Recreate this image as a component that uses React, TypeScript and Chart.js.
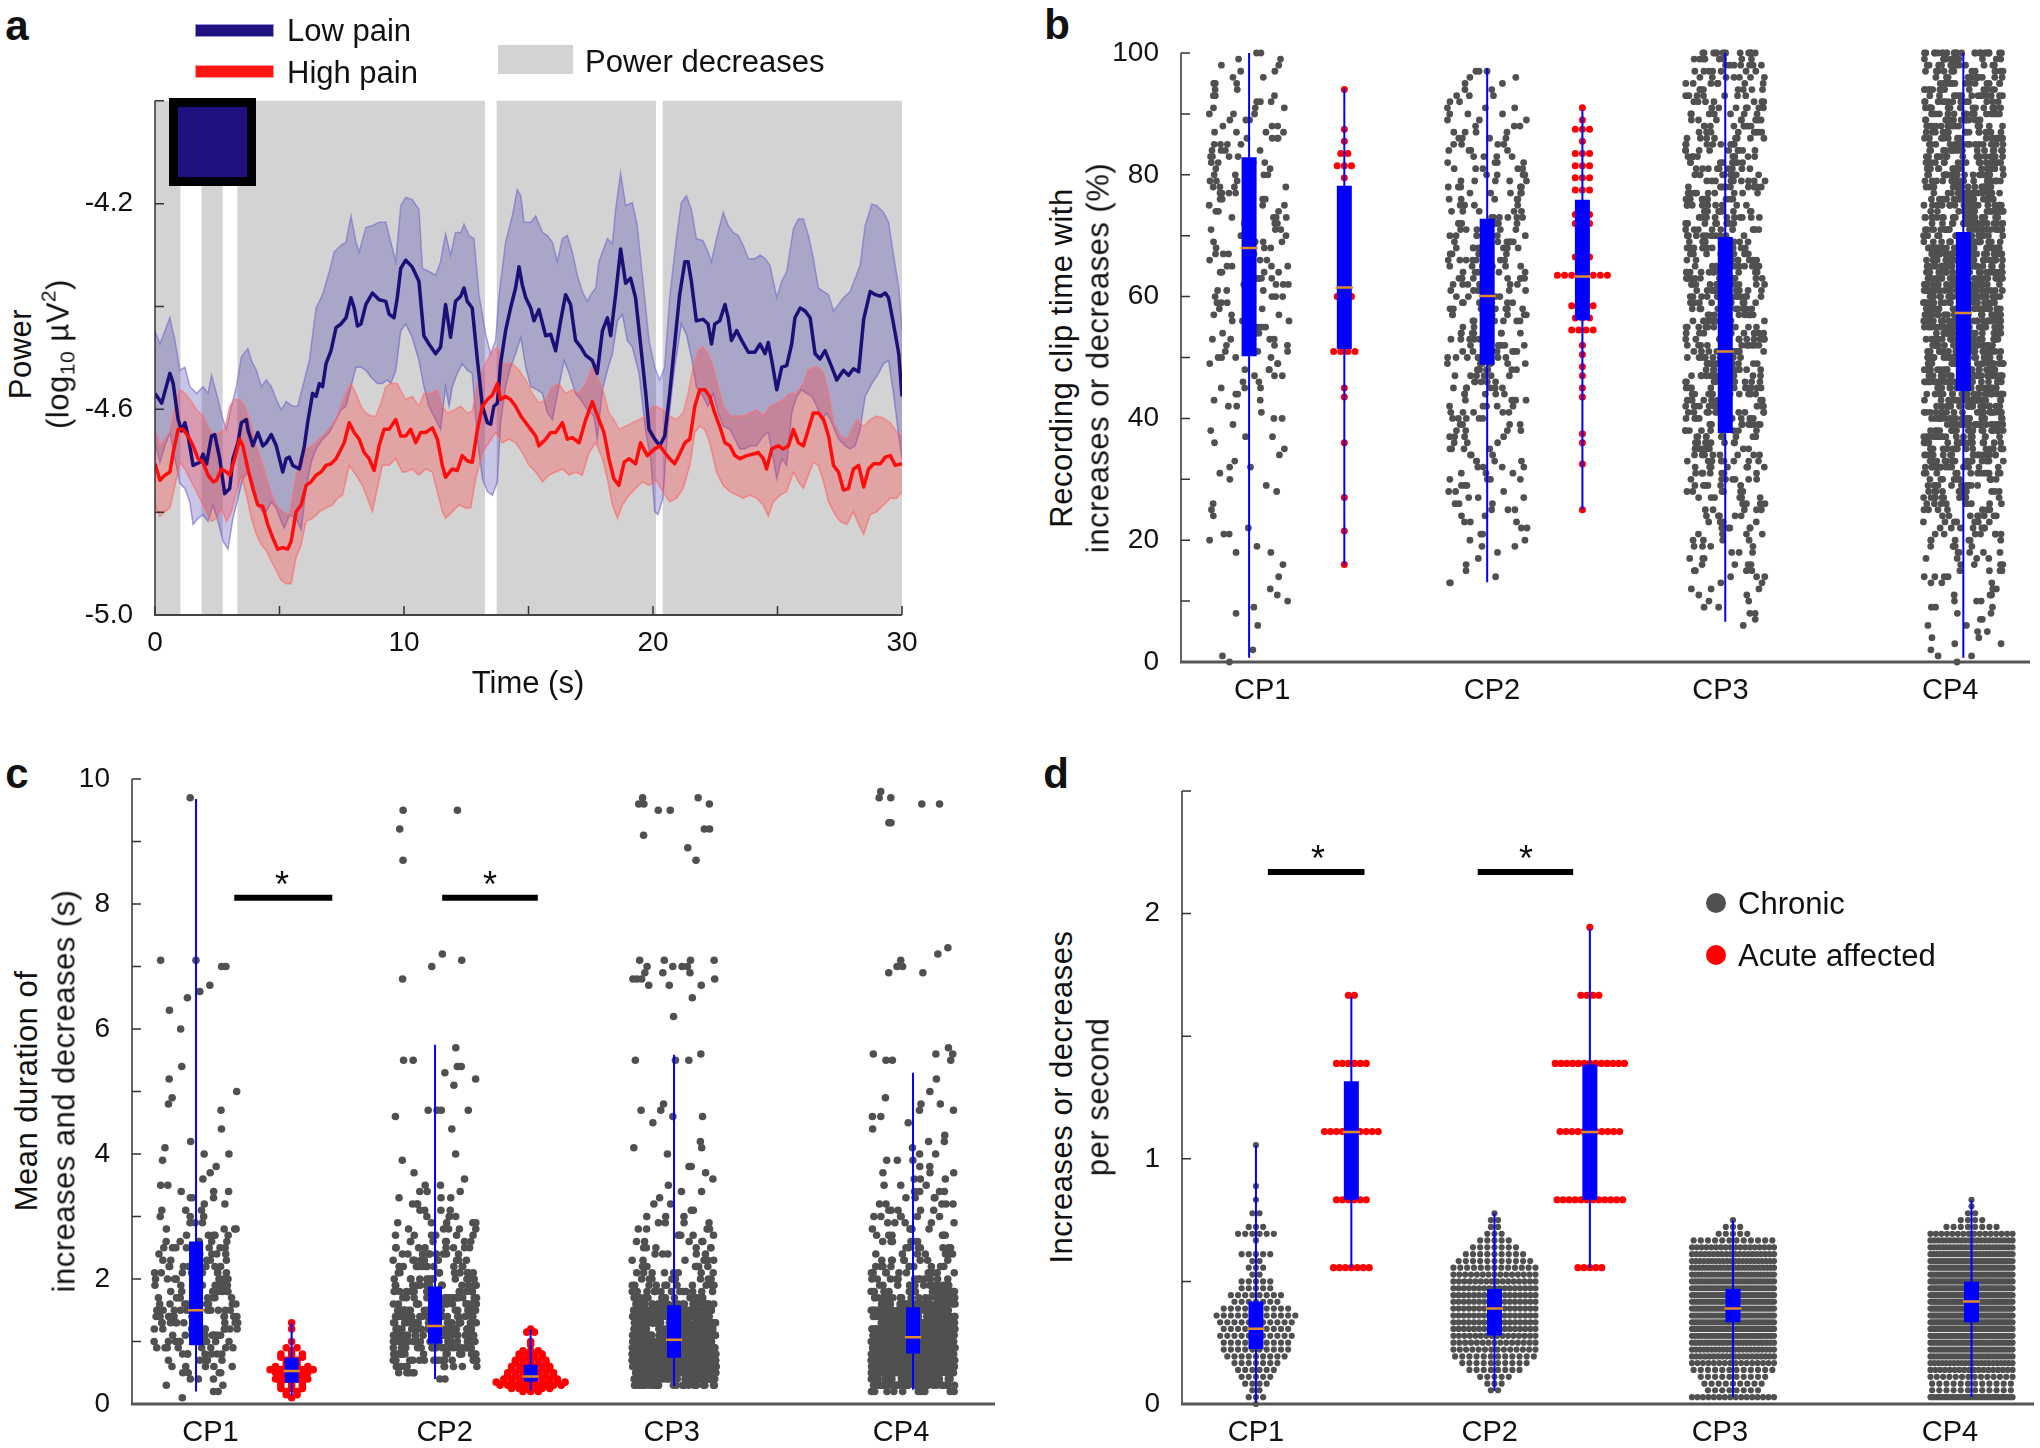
import React, { useEffect, useRef } from "react";
import { Chart, registerables } from "chart.js";

Chart.register(...registerables);

// ======================= DATA =======================
// ---- Panel a: power time courses (time s, log10 µV²) ----
const A_POWER_DECREASE_INTERVALS = [[0, 1.02], [1.87, 2.72], [3.31, 13.25], [13.72, 20.12], [20.39, 30]];
const A_X_TICKS = [0, 5, 10, 15, 20, 25, 30];

const A_LOW_MEAN = [[0,-4.569],[0.27,-4.588],[0.6,-4.53],[0.73,-4.55],[0.93,-4.62],[1.07,-4.642],[1.2,-4.626],[1.33,-4.652],[1.53,-4.709],[1.8,-4.703],[1.93,-4.687],[2.07,-4.706],[2.27,-4.652],[2.4,-4.649],[2.6,-4.696],[2.8,-4.764],[3,-4.754],[3.13,-4.696],[3.33,-4.665],[3.47,-4.626],[3.67,-4.62],[3.73,-4.639],[3.93,-4.671],[4.13,-4.645],[4.33,-4.671],[4.47,-4.665],[4.67,-4.649],[4.87,-4.671],[5.13,-4.722],[5.27,-4.696],[5.4,-4.693],[5.53,-4.709],[5.8,-4.716],[6,-4.671],[6.13,-4.626],[6.33,-4.569],[6.47,-4.575],[6.6,-4.55],[6.73,-4.556],[6.87,-4.511],[7.07,-4.486],[7.27,-4.441],[7.47,-4.434],[7.67,-4.422],[7.87,-4.383],[8,-4.403],[8.13,-4.438],[8.27,-4.434],[8.47,-4.396],[8.73,-4.374],[9,-4.387],[9.27,-4.39],[9.4,-4.415],[9.6,-4.422],[9.73,-4.383],[9.87,-4.326],[10.07,-4.31],[10.33,-4.323],[10.6,-4.351],[10.8,-4.457],[11,-4.473],[11.27,-4.492],[11.47,-4.479],[11.67,-4.396],[11.87,-4.46],[12.07,-4.39],[12.28,-4.38],[12.41,-4.364],[12.54,-4.39],[12.74,-4.403],[12.95,-4.505],[13.15,-4.594],[13.35,-4.626],[13.48,-4.629],[13.61,-4.594],[13.75,-4.588],[13.88,-4.511],[14.08,-4.447],[14.28,-4.403],[14.48,-4.364],[14.62,-4.323],[14.75,-4.358],[14.89,-4.383],[15.09,-4.403],[15.22,-4.428],[15.42,-4.406],[15.69,-4.457],[15.89,-4.454],[16.09,-4.486],[16.29,-4.428],[16.49,-4.377],[16.69,-4.396],[16.89,-4.466],[17.1,-4.479],[17.3,-4.495],[17.56,-4.505],[17.76,-4.53],[17.97,-4.447],[18.17,-4.422],[18.3,-4.457],[18.5,-4.377],[18.7,-4.288],[18.9,-4.355],[19.1,-4.345],[19.3,-4.383],[19.5,-4.473],[19.71,-4.569],[19.84,-4.639],[20.07,-4.658],[20.27,-4.671],[20.47,-4.652],[20.67,-4.569],[20.87,-4.473],[21.07,-4.377],[21.28,-4.313],[21.41,-4.313],[21.54,-4.351],[21.74,-4.428],[22.01,-4.425],[22.21,-4.434],[22.35,-4.473],[22.48,-4.434],[22.68,-4.428],[22.89,-4.396],[23.02,-4.422],[23.15,-4.466],[23.36,-4.447],[23.56,-4.466],[23.83,-4.489],[24.09,-4.489],[24.3,-4.473],[24.5,-4.492],[24.63,-4.47],[24.77,-4.505],[24.97,-4.562],[25.17,-4.518],[25.37,-4.515],[25.57,-4.473],[25.7,-4.422],[25.91,-4.403],[26.11,-4.409],[26.31,-4.422],[26.51,-4.492],[26.71,-4.502],[26.91,-4.486],[27.18,-4.518],[27.38,-4.543],[27.65,-4.524],[27.85,-4.534],[28.05,-4.521],[28.26,-4.527],[28.46,-4.425],[28.72,-4.371],[28.93,-4.377],[29.13,-4.38],[29.33,-4.374],[29.46,-4.383],[29.66,-4.434],[29.87,-4.492],[30,-4.575]];

const A_LOW_UPPER = [[0,-4.447],[0.2,-4.473],[0.4,-4.447],[0.6,-4.422],[0.8,-4.466],[1,-4.524],[1.2,-4.518],[1.4,-4.556],[1.67,-4.569],[1.93,-4.556],[2.13,-4.569],[2.27,-4.534],[2.47,-4.569],[2.73,-4.62],[2.87,-4.639],[3.07,-4.594],[3.27,-4.556],[3.47,-4.498],[3.73,-4.482],[3.87,-4.505],[4.07,-4.524],[4.27,-4.556],[4.47,-4.543],[4.67,-4.556],[4.87,-4.581],[5.07,-4.601],[5.27,-4.585],[5.53,-4.594],[5.73,-4.594],[5.93,-4.556],[6.2,-4.505],[6.47,-4.403],[6.73,-4.377],[7,-4.332],[7.2,-4.294],[7.47,-4.281],[7.67,-4.275],[7.87,-4.224],[8.07,-4.275],[8.2,-4.294],[8.47,-4.246],[8.73,-4.243],[9,-4.236],[9.27,-4.236],[9.47,-4.275],[9.67,-4.313],[9.87,-4.204],[10.07,-4.188],[10.33,-4.192],[10.6,-4.211],[10.74,-4.326],[11,-4.332],[11.27,-4.339],[11.47,-4.313],[11.67,-4.259],[11.87,-4.3],[12.07,-4.256],[12.28,-4.256],[12.41,-4.24],[12.61,-4.262],[12.81,-4.268],[13.01,-4.377],[13.28,-4.454],[13.48,-4.492],[13.68,-4.466],[13.82,-4.377],[14.08,-4.275],[14.35,-4.224],[14.55,-4.173],[14.69,-4.185],[14.82,-4.236],[15.09,-4.236],[15.29,-4.224],[15.56,-4.256],[15.76,-4.262],[15.96,-4.275],[16.16,-4.313],[16.36,-4.268],[16.56,-4.262],[16.76,-4.294],[16.96,-4.339],[17.16,-4.371],[17.36,-4.39],[17.5,-4.377],[17.7,-4.364],[17.83,-4.313],[17.97,-4.294],[18.17,-4.268],[18.37,-4.278],[18.5,-4.211],[18.7,-4.141],[18.9,-4.204],[19.17,-4.198],[19.37,-4.243],[19.57,-4.339],[19.84,-4.466],[20.07,-4.518],[20.27,-4.543],[20.47,-4.518],[20.67,-4.383],[20.94,-4.268],[21.14,-4.198],[21.34,-4.185],[21.54,-4.211],[21.74,-4.268],[22.01,-4.272],[22.21,-4.294],[22.35,-4.313],[22.55,-4.268],[22.82,-4.217],[23.02,-4.243],[23.22,-4.256],[23.42,-4.262],[23.62,-4.281],[23.83,-4.307],[24.09,-4.307],[24.3,-4.3],[24.5,-4.307],[24.7,-4.32],[24.97,-4.383],[25.17,-4.351],[25.37,-4.332],[25.64,-4.249],[25.84,-4.23],[26.04,-4.23],[26.24,-4.262],[26.44,-4.307],[26.64,-4.364],[26.85,-4.371],[27.05,-4.377],[27.25,-4.409],[27.45,-4.396],[27.65,-4.383],[27.92,-4.371],[28.12,-4.345],[28.32,-4.32],[28.52,-4.243],[28.79,-4.201],[28.99,-4.204],[29.26,-4.217],[29.46,-4.236],[29.66,-4.3],[29.87,-4.364],[30,-4.447]];

const A_LOW_LOWER = [[0,-4.665],[0.2,-4.703],[0.4,-4.671],[0.6,-4.645],[0.8,-4.696],[1,-4.744],[1.2,-4.754],[1.4,-4.78],[1.53,-4.824],[1.73,-4.812],[1.93,-4.805],[2.13,-4.818],[2.33,-4.786],[2.53,-4.818],[2.73,-4.856],[2.93,-4.872],[3.13,-4.812],[3.33,-4.773],[3.53,-4.735],[3.73,-4.722],[3.93,-4.741],[4.13,-4.786],[4.4,-4.805],[4.67,-4.78],[4.87,-4.792],[5.07,-4.818],[5.2,-4.831],[5.4,-4.805],[5.67,-4.812],[5.87,-4.834],[6.07,-4.754],[6.27,-4.703],[6.47,-4.677],[6.73,-4.658],[7,-4.645],[7.27,-4.62],[7.47,-4.601],[7.67,-4.594],[7.87,-4.556],[8.07,-4.518],[8.27,-4.518],[8.47,-4.524],[8.67,-4.537],[8.93,-4.55],[9.13,-4.55],[9.33,-4.543],[9.47,-4.55],[9.67,-4.524],[9.87,-4.447],[10.07,-4.434],[10.33,-4.46],[10.6,-4.505],[10.8,-4.556],[11,-4.594],[11.27,-4.62],[11.47,-4.639],[11.67,-4.556],[11.81,-4.594],[11.94,-4.556],[12.14,-4.53],[12.34,-4.511],[12.54,-4.524],[12.74,-4.53],[12.95,-4.658],[13.15,-4.735],[13.35,-4.76],[13.55,-4.767],[13.75,-4.741],[13.88,-4.626],[14.08,-4.556],[14.28,-4.518],[14.48,-4.492],[14.69,-4.46],[14.89,-4.518],[15.09,-4.556],[15.35,-4.562],[15.56,-4.569],[15.76,-4.607],[15.96,-4.62],[16.22,-4.556],[16.43,-4.505],[16.63,-4.53],[16.89,-4.569],[17.1,-4.581],[17.36,-4.601],[17.63,-4.613],[17.76,-4.658],[17.97,-4.562],[18.17,-4.524],[18.37,-4.492],[18.57,-4.428],[18.77,-4.415],[18.97,-4.466],[19.17,-4.479],[19.44,-4.53],[19.71,-4.645],[19.91,-4.696],[20.07,-4.799],[20.2,-4.805],[20.4,-4.773],[20.6,-4.633],[20.87,-4.518],[21.14,-4.434],[21.34,-4.454],[21.54,-4.498],[21.74,-4.556],[22.01,-4.575],[22.21,-4.594],[22.42,-4.569],[22.62,-4.607],[22.82,-4.633],[23.09,-4.639],[23.29,-4.658],[23.49,-4.677],[23.69,-4.677],[23.89,-4.671],[24.16,-4.671],[24.43,-4.652],[24.63,-4.645],[24.83,-4.696],[24.97,-4.735],[25.17,-4.696],[25.37,-4.709],[25.57,-4.607],[25.77,-4.575],[25.97,-4.562],[26.17,-4.569],[26.38,-4.575],[26.58,-4.594],[26.78,-4.62],[26.98,-4.607],[27.18,-4.626],[27.45,-4.658],[27.72,-4.671],[27.92,-4.677],[28.12,-4.671],[28.32,-4.639],[28.52,-4.575],[28.79,-4.55],[29.06,-4.53],[29.26,-4.511],[29.46,-4.505],[29.66,-4.569],[29.87,-4.652],[30,-4.696]];

const A_HIGH_MEAN = [[0,-4.706],[0.2,-4.738],[0.4,-4.728],[0.6,-4.722],[0.73,-4.684],[0.93,-4.639],[1.13,-4.639],[1.33,-4.652],[1.53,-4.671],[1.73,-4.696],[1.93,-4.703],[2.13,-4.728],[2.33,-4.741],[2.47,-4.738],[2.67,-4.716],[2.87,-4.722],[3,-4.728],[3.2,-4.696],[3.4,-4.658],[3.53,-4.671],[3.73,-4.716],[3.93,-4.754],[4.13,-4.786],[4.33,-4.789],[4.53,-4.824],[4.73,-4.85],[4.93,-4.872],[5.13,-4.869],[5.33,-4.872],[5.47,-4.856],[5.67,-4.799],[5.87,-4.786],[6.07,-4.748],[6.27,-4.741],[6.47,-4.728],[6.67,-4.722],[6.87,-4.709],[7.07,-4.706],[7.27,-4.696],[7.4,-4.684],[7.6,-4.665],[7.8,-4.626],[8,-4.645],[8.2,-4.658],[8.4,-4.684],[8.6,-4.696],[8.8,-4.719],[9,-4.671],[9.2,-4.639],[9.4,-4.639],[9.67,-4.62],[9.87,-4.652],[10.07,-4.652],[10.27,-4.639],[10.47,-4.665],[10.67,-4.645],[10.87,-4.645],[11.14,-4.636],[11.34,-4.658],[11.54,-4.709],[11.67,-4.732],[11.94,-4.716],[12.14,-4.719],[12.34,-4.69],[12.54,-4.7],[12.74,-4.703],[12.95,-4.639],[13.15,-4.594],[13.35,-4.581],[13.55,-4.572],[13.75,-4.55],[13.88,-4.581],[14.08,-4.575],[14.28,-4.581],[14.48,-4.594],[14.69,-4.613],[14.89,-4.626],[15.09,-4.639],[15.29,-4.652],[15.42,-4.671],[15.69,-4.658],[15.89,-4.645],[16.09,-4.645],[16.36,-4.626],[16.56,-4.658],[16.76,-4.655],[17.03,-4.665],[17.3,-4.62],[17.56,-4.585],[17.83,-4.62],[18.03,-4.645],[18.23,-4.696],[18.43,-4.735],[18.63,-4.748],[18.84,-4.703],[19.04,-4.696],[19.3,-4.706],[19.5,-4.665],[19.77,-4.69],[20.07,-4.677],[20.27,-4.671],[20.47,-4.684],[20.67,-4.696],[20.87,-4.706],[21.07,-4.687],[21.28,-4.665],[21.48,-4.658],[21.68,-4.594],[21.88,-4.562],[22.08,-4.562],[22.28,-4.575],[22.48,-4.607],[22.68,-4.633],[22.89,-4.665],[23.09,-4.671],[23.29,-4.69],[23.49,-4.696],[23.76,-4.69],[24.03,-4.687],[24.23,-4.684],[24.43,-4.696],[24.56,-4.716],[24.77,-4.677],[25.03,-4.671],[25.23,-4.677],[25.44,-4.671],[25.64,-4.639],[25.84,-4.665],[26.04,-4.671],[26.24,-4.639],[26.44,-4.607],[26.64,-4.607],[26.85,-4.62],[27.05,-4.652],[27.25,-4.709],[27.45,-4.722],[27.65,-4.757],[27.85,-4.754],[28.05,-4.716],[28.26,-4.709],[28.46,-4.751],[28.66,-4.716],[28.86,-4.706],[29.13,-4.706],[29.33,-4.693],[29.53,-4.69],[29.73,-4.709],[30,-4.706]];

const A_HIGH_UPPER = [[0,-4.639],[0.2,-4.671],[0.4,-4.658],[0.6,-4.645],[0.8,-4.594],[1,-4.562],[1.2,-4.569],[1.4,-4.581],[1.67,-4.601],[1.93,-4.613],[2.13,-4.633],[2.33,-4.652],[2.6,-4.645],[2.8,-4.639],[3,-4.594],[3.2,-4.581],[3.4,-4.581],[3.6,-4.594],[3.8,-4.62],[4.07,-4.671],[4.33,-4.709],[4.6,-4.754],[4.87,-4.786],[5.13,-4.799],[5.4,-4.805],[5.6,-4.748],[5.8,-4.696],[6.07,-4.677],[6.33,-4.671],[6.6,-4.658],[6.87,-4.645],[7.07,-4.633],[7.27,-4.62],[7.47,-4.594],[7.67,-4.569],[7.87,-4.55],[8.07,-4.569],[8.27,-4.594],[8.47,-4.607],[8.67,-4.613],[8.87,-4.613],[9.07,-4.588],[9.27,-4.556],[9.47,-4.55],[9.73,-4.55],[9.93,-4.569],[10.07,-4.581],[10.33,-4.575],[10.6,-4.594],[10.8,-4.569],[11.07,-4.569],[11.34,-4.562],[11.54,-4.594],[11.74,-4.607],[12.01,-4.601],[12.28,-4.594],[12.54,-4.607],[12.74,-4.604],[12.95,-4.55],[13.21,-4.518],[13.48,-4.492],[13.75,-4.479],[13.95,-4.511],[14.15,-4.511],[14.35,-4.511],[14.62,-4.524],[14.89,-4.543],[15.15,-4.569],[15.42,-4.588],[15.69,-4.581],[15.96,-4.556],[16.22,-4.55],[16.49,-4.569],[16.76,-4.562],[17.03,-4.569],[17.3,-4.55],[17.56,-4.518],[17.83,-4.543],[18.03,-4.569],[18.23,-4.607],[18.43,-4.62],[18.63,-4.639],[18.9,-4.633],[19.17,-4.626],[19.44,-4.62],[19.71,-4.613],[19.97,-4.594],[20.13,-4.594],[20.4,-4.601],[20.67,-4.613],[20.94,-4.62],[21.21,-4.607],[21.41,-4.569],[21.61,-4.518],[21.81,-4.486],[22.01,-4.479],[22.21,-4.492],[22.42,-4.518],[22.62,-4.556],[22.82,-4.594],[23.09,-4.613],[23.36,-4.613],[23.62,-4.613],[23.89,-4.607],[24.16,-4.601],[24.43,-4.613],[24.7,-4.594],[24.97,-4.588],[25.23,-4.581],[25.5,-4.569],[25.77,-4.569],[26.04,-4.55],[26.24,-4.524],[26.44,-4.518],[26.64,-4.518],[26.85,-4.53],[27.05,-4.569],[27.25,-4.626],[27.52,-4.652],[27.79,-4.658],[27.99,-4.639],[28.19,-4.62],[28.46,-4.633],[28.72,-4.62],[28.99,-4.613],[29.26,-4.617],[29.53,-4.626],[29.8,-4.645],[30,-4.652]];

const A_HIGH_LOWER = [[0,-4.786],[0.2,-4.808],[0.4,-4.799],[0.6,-4.792],[0.8,-4.748],[1,-4.703],[1.2,-4.716],[1.4,-4.735],[1.67,-4.76],[1.87,-4.78],[2.07,-4.799],[2.27,-4.818],[2.47,-4.812],[2.67,-4.792],[2.87,-4.818],[3.07,-4.799],[3.27,-4.76],[3.47,-4.728],[3.67,-4.767],[3.87,-4.812],[4.07,-4.843],[4.27,-4.863],[4.47,-4.875],[4.67,-4.895],[4.87,-4.914],[5.07,-4.933],[5.27,-4.939],[5.47,-4.939],[5.67,-4.888],[5.87,-4.863],[6.07,-4.818],[6.33,-4.812],[6.6,-4.799],[6.87,-4.792],[7.13,-4.786],[7.33,-4.773],[7.53,-4.767],[7.8,-4.709],[8.07,-4.728],[8.33,-4.748],[8.53,-4.773],[8.73,-4.799],[8.93,-4.754],[9.13,-4.709],[9.4,-4.709],[9.67,-4.696],[9.93,-4.722],[10.07,-4.722],[10.33,-4.716],[10.6,-4.728],[10.87,-4.716],[11.14,-4.722],[11.34,-4.76],[11.54,-4.799],[11.67,-4.812],[11.94,-4.799],[12.21,-4.786],[12.48,-4.792],[12.68,-4.792],[12.88,-4.735],[13.15,-4.684],[13.41,-4.665],[13.68,-4.645],[13.95,-4.665],[14.22,-4.658],[14.48,-4.665],[14.75,-4.684],[15.02,-4.709],[15.29,-4.722],[15.56,-4.741],[15.82,-4.728],[16.09,-4.722],[16.36,-4.716],[16.63,-4.728],[16.89,-4.722],[17.16,-4.728],[17.43,-4.684],[17.7,-4.665],[17.97,-4.696],[18.17,-4.735],[18.37,-4.786],[18.57,-4.812],[18.77,-4.786],[19.04,-4.767],[19.3,-4.754],[19.57,-4.741],[19.84,-4.748],[20.13,-4.738],[20.4,-4.76],[20.67,-4.78],[20.94,-4.773],[21.21,-4.754],[21.48,-4.709],[21.68,-4.645],[21.88,-4.633],[22.08,-4.639],[22.28,-4.665],[22.55,-4.722],[22.82,-4.748],[23.09,-4.76],[23.36,-4.767],[23.62,-4.773],[23.89,-4.767],[24.16,-4.773],[24.43,-4.786],[24.63,-4.808],[24.83,-4.78],[25.1,-4.767],[25.37,-4.76],[25.64,-4.722],[25.84,-4.741],[26.04,-4.754],[26.24,-4.728],[26.44,-4.703],[26.64,-4.709],[26.85,-4.741],[27.05,-4.78],[27.32,-4.805],[27.52,-4.818],[27.79,-4.824],[28.05,-4.799],[28.26,-4.824],[28.46,-4.843],[28.72,-4.805],[28.99,-4.799],[29.26,-4.786],[29.53,-4.773],[29.8,-4.773],[30,-4.76]];

// ---- Shared categories ----
const CATEGORIES = ["CP1", "CP2", "CP3", "CP4"];
const CHRONIC_POS = [1, 2, 3, 4];
const ACUTE_POS = [1.4, 2.4];

// ---- Panel b: % clip time (counts of recordings per whole percent, index = percent 0..100) ----
const B_CHRONIC_CP1 = [1,1,1,0,0,0,1,0,1,1, 1,1,1,0,1,0,1,0,2,1, 1,2,1,0,1,1,1,0,1,1, 1,1,2,1,1,1,1,2,1,1, 2,1,2,2,2,3,2,3,3,3, 4,4,4,4,4,4,4,4,4,4, 4,4,4,5,4,4,4,4,4,4, 4,4,4,4,4,4,4,4,4,4, 4,4,5,4,4,4,4,4,3,3, 3,3,3,3,2,3,2,2,2,2, 2];
const B_CHRONIC_CP2 = [0,0,0,0,0,0,0,0,0,0, 0,0,0,2,1,1,1,1,1,2, 2,2,2,3,2,3,3,3,3,3, 4,3,4,4,3,4,3,4,4,4, 5,5,5,5,5,6,6,6,6,6, 7,7,7,7,7,7,7,8,8,7, 7,7,8,7,7,7,7,6,7,6, 6,6,6,6,5,5,5,5,5,5, 5,5,4,4,4,4,4,4,3,3, 3,3,2,3,2,2,2,3,0,0, 0];
const B_CHRONIC_CP3 = [0,0,0,0,0,0,1,1,2,2, 2,2,3,2,3,4,4,3,3,4, 4,4,5,4,5,5,5,6,6,6, 7,7,7,8,8,8,8,9,9,9, 10,10,10,10,10,11,11,11,11,11, 11,11,11,11,11,11,11,11,11,11, 11,11,11,11,11,11,11,10,10,10, 10,10,10,10,10,10,10,9,9,9, 9,9,9,9,9,8,8,8,8,8, 7,7,7,7,7,7,7,7,7,8, 14];
const B_CHRONIC_CP4 = [1,2,1,2,2,2,2,2,2,3, 3,3,3,3,4,4,4,4,5,5, 6,7,7,7,8,8,9,10,11,11, 12,13,14,15,16,17,18,19,20,21, 22,22,22,23,23,23,23,24,24,24, 24,24,24,24,24,24,24,24,24,24, 24,23,23,23,23,23,23,22,22,22, 21,21,20,20,20,19,19,19,18,18, 18,18,17,17,17,16,16,16,15,15, 15,15,14,14,14,14,13,13,13,13, 26];
const B_ACUTE_CP1 = [94,87.5,85.5,83.5,83.5,81.5,81.5,81.5,79.5,74,70,68.5,68.5,66,66,64,62.5,61.5,60,60,60,58.5,57,56,53,51,51,51,51,45,43.5,36,27,21.5,16];
const B_ACUTE_CP2 = [91,89,87.5,87.5,87.5,85.5,83.5,83.5,83.5,81.5,81.5,81.5,79.5,79.5,79.5,77.5,77.5,77.5,73.5,73.5,73.5,72,72,72,69,66.5,66.5,66.5,63.5,63.5,63.5,63.5,63.5,63.5,63.5,63.5,62,62,60,58.5,58.5,58.5,58.5,56.5,56.5,56.5,54.5,54.5,54.5,54.5,52,50.5,48.5,47,45,43.5,37.5,36,32.5,25];
// box: [position, whiskerLow, q1, median, q3, whiskerHigh]
const B_BOXES = [[1,0.7,50.2,68,82.9,100],[1.4,15.9,51.4,61.5,78.2,94.2],[2,13.1,48.8,60.1,72.8,97.5],[2.4,25,56.1,63.3,75.9,90.6],[3,6.6,37.6,51,69.8,100],[4,0.7,44.5,57.3,70.6,100]];
const B_LABEL_POS = [1.055, 2.02, 2.98, 3.945];

// ---- Panel c: mean duration (counts per 0.1 s, index i = i/10 s) ----
const C_CHRONIC_CP1 = [0,1,2,2,3,4,5,6,7,8, 9,10,10,11,11,11,10,10,10,9, 9,9,8,8,7,7,6,5,4,3, 3,3,2,3,3,2,1,1,1,1, 2,1,1,0,1,0,0,1,1,1, 1,0,1,0,1,0,0,0,0,0, 1,0,0,1,0,1,1,1,0,0, 2,2,0,0,0,0,0,0,0,0, 0,0,0,0,0,0,0,0,0,0, 0,0,0,0,0,0,0,1,0,0];
const C_CHRONIC_CP2 = [0,0,0,0,2,5,10,15,18,22, 25,26,26,25,24,22,20,18,16,14, 13,12,11,10,9,8,7,6,5,5, 4,4,3,3,3,2,1,1,0,1, 1,0,0,0,1,0,1,4,0,0, 0,1,1,1,2,2,0,1,0,0, 0,0,0,0,0,0,0,0,1,0, 1,1,1,0,0,0,0,0,0,0, 0,0,0,0,0,0,0,1,0,0, 0,0,1,0,0,2,0,0,0,0];
const C_CHRONIC_CP3 = [0,0,0,30,50,60,65,65,65,60, 58,55,50,45,40,35,24,18,14,11, 9,8,7,6,5,6,5,5,4,4, 3,2,2,1,2,1,1,1,2,0, 1,2,1,0,0,1,2,2,1,0, 0,0,0,0,0,3,1,0,0,0, 0,0,1,0,0,1,0,3,4,3, 4,4,0,0,0,0,0,0,0,0, 0,0,0,0,0,0,0,1,0,1, 0,1,2,0,0,2,3,2,0,0];
const C_CHRONIC_CP4 = [0,0,10,35,55,70,75,78,78,75, 72,68,62,56,50,44,30,24,19,15, 12,10,9,8,7,7,6,6,5,5, 6,5,5,4,4,3,3,3,2,3, 2,1,2,1,1,1,2,2,2,1, 1,0,1,0,0,3,3,1,0,0, 0,0,0,0,0,0,0,0,0,2, 2,1,1,1,0,0,0,0,0,0, 0,0,0,0,0,0,0,0,0,0, 0,0,0,2,0,0,2,2,1,0];
const C_ACUTE_LEVELS = [0.1,0.15,0.2,0.25,0.3,0.35,0.4,0.45,0.5,0.55,0.6,0.65,0.7,0.75,0.8,0.85,0.9,0.95,1,1.05,1.1,1.15,1.2,1.25,1.3];
const C_ACUTE_CP1 = [1,2,2,3,3,3,4,3,4,5,4,2,2,3,3,1,2,0,1,0,0,0,1,0,1];
const C_ACUTE_CP2 = [0,0,3,6,9,10,8,7,7,6,6,5,5,4,4,3,0,1,1,0,0,2,1,0,0];
const C_BOXES = [[1,0.2,0.94,1.5,2.6,9.68],[1.4,0.14,0.34,0.53,0.74,1.3],[2,0.4,0.97,1.25,1.88,5.75],[2.4,0.22,0.36,0.44,0.63,1.19],[3,0.29,0.74,1.03,1.58,5.59],[4,0.23,0.81,1.07,1.55,5.3]];
const C_SIGNIFICANCE = [[1.16, 1.57, 8.1], [2.03, 2.43, 8.1]];
const C_LABEL_POS = [1.06, 2.04, 2.99, 3.95];

// ---- Panel d: events per second (quantised levels k/36) ----
const D_LEVELS = [0,0.028,0.056,0.083,0.111,0.139,0.167,0.194,0.222,0.25,0.278,0.306,0.333,0.361,0.389,0.417,0.444,0.472,0.5,0.528,0.556,0.583,0.611,0.639,0.667,0.694,0.722,0.75,0.778,0.806,0.833,0.861,0.889,0.917,0.944,0.972,1,1.028,1.056];
const D_CHRONIC_CP1 = [1,3,2,4,5,6,7,9,10,10,11,10,11,12,10,7,8,5,5,2,3,2,5,0,1,6,3,0,2,0,1,0,1,0,0,0,0,0,1];
const D_CHRONIC_CP2 = [0,0,2,3,5,8,10,12,14,15,16,17,17,17,17,17,17,17,16,15,13,11,9,7,5,3,2,2,1];
const D_CHRONIC_CP3 = [0,16,8,9,10,12,16,20,22,26,28,30,32,34,34,34,32,30,28,26,24,22,20,18,12,5,3,1];
const D_CHRONIC_CP4 = [0,30,12,12,14,18,22,26,30,34,38,42,44,46,46,46,44,42,40,36,34,30,28,26,22,16,8,4,2,1,1];
const D_ACUTE_LEVELS = [0.556,0.833,1.111,1.389,1.667,1.944];
const D_ACUTE_CP1 = [7,6,10,6,2,0];
const D_ACUTE_CP2 = [5,12,11,13,4,1];
const D_BOXES = [[1,0,0.224,0.307,0.418,1.054],[1.4,0.556,0.833,1.109,1.316,1.66],[2,0.054,0.279,0.389,0.469,0.778],[2.4,0.556,0.833,1.109,1.385,1.939],[3,0.03,0.333,0.389,0.469,0.748],[4,0.03,0.333,0.418,0.499,0.83]];
const D_SIGNIFICANCE = [[1.05, 1.455, 2.17], [1.93, 2.33, 2.17]];
const D_LABEL_POS = [1.0, 1.98, 2.945, 3.91];

// ======================= STYLE =======================
const FONT_TICK = "'Liberation Sans Narrow', 'Arial Narrow', 'Liberation Sans', Arial, sans-serif";
const FONT_TEXT = "'Liberation Sans', Arial, sans-serif";
const NAVY = "#1c1078";
const RED = "#ff0d0d";
const GRAY_PT = "#505050";
const RED_PT = "#ff0000";
const BLUE = "#0000ff";
const ORANGE = "#e08b2c";
const TICK_COLOR = "#111";

type Pt = { x: number; y: number | null };

// ======================= HELPERS =======================
const toXY = (arr: number[][]): Pt[] => arr.map(([x, y]) => ({ x, y }));

function expandCounts(counts: number[], divisor: number): number[] {
  const out: number[] = [];
  counts.forEach((n, i) => { for (let k = 0; k < n; k++) out.push(i / divisor); });
  return out;
}

// deterministic hash in [0,1) used only for horizontal jitter placement (layout, not data)
function hash01(i: number): number {
  let h = Math.imul(i + 1, 2654435761) >>> 0;
  h ^= h >>> 15;
  h = Math.imul(h, 2246822519) >>> 0;
  h ^= h >>> 13;
  h = Math.imul(h, 3266489917) >>> 0;
  h ^= h >>> 16;
  return (h >>> 0) / 4294967296;
}

function jitter(center: number, values: number[], half: number, seed: number): Pt[] {
  return values.map((v, i) => ({ x: center + (hash01(i + seed * 10007) * 2 - 1) * half, y: v }));
}

function swarm(center: number, levels: number[], counts: number[], spacing: number, maxHalf: number): Pt[] {
  const pts: Pt[] = [];
  levels.forEach((lv, r) => {
    const n = counts[r] || 0;
    if (!n) return;
    let sp = spacing;
    if (n > 1 && (n - 1) * sp > 2 * maxHalf) sp = (2 * maxHalf) / (n - 1);
    for (let i = 0; i < n; i++) pts.push({ x: center + (i - (n - 1) / 2) * sp, y: lv });
  });
  return pts;
}

function groupValues(values: number[]): [number[], number[]] {
  const m = new Map<number, number>();
  values.forEach((v) => m.set(v, (m.get(v) || 0) + 1));
  const lv = Array.from(m.keys()).sort((a, b) => a - b);
  return [lv, lv.map((l) => m.get(l) as number)];
}

function pointsDs(data: Pt[], color: string, r: number) {
  return { type: "scatter", data, pointRadius: r, pointHoverRadius: r, pointBackgroundColor: color, pointBorderColor: color, pointBorderWidth: 0, showLine: false, clip: false, order: 5 };
}

function segDs(data: Pt[], color: string, width: number, order: number) {
  return { type: "line", data, borderColor: color, borderWidth: width, borderCapStyle: "butt", pointRadius: 0, pointHoverRadius: 0, fill: false, spanGaps: false, clip: false, order, tension: 0 };
}

function boxDatasets(boxes: number[][], medHalf: number, boxWidth: number) {
  const wh: Pt[] = [], bx: Pt[] = [], md: Pt[] = [];
  boxes.forEach(([x, lo, q1, med, q3, hi]) => {
    wh.push({ x, y: lo }, { x, y: hi }, { x, y: null });
    bx.push({ x, y: q1 }, { x, y: q3 }, { x, y: null });
    md.push({ x: x - medHalf, y: med }, { x: x + medHalf, y: med }, { x: x + medHalf, y: null });
  });
  return [segDs(wh, BLUE, 2, 3), segDs(bx, BLUE, boxWidth, 2), segDs(md, ORANGE, 2.5, 1)];
}

function sigDataset(sig: number[][]) {
  const d: Pt[] = [];
  sig.forEach(([a, b, y]) => { d.push({ x: a, y }, { x: b, y }, { x: b, y: null }); });
  return segDs(d, "#000", 6, 1);
}

// ======================= PLUGINS =======================
const shadePlugin = {
  id: "shade",
  beforeDatasetsDraw(chart: any, _a: any, o: any) {
    if (!o || !o.intervals) return;
    const { ctx, chartArea } = chart;
    const x = chart.scales.x;
    ctx.save();
    ctx.fillStyle = o.color;
    o.intervals.forEach(([a, b]: number[]) => {
      const xa = x.getPixelForValue(a), xb = x.getPixelForValue(b);
      ctx.fillRect(xa, chartArea.top, xb - xa, chartArea.bottom - chartArea.top);
    });
    ctx.restore();
  },
};

const axesPlugin = {
  id: "matlabAxes",
  afterDatasetsDraw(chart: any, _a: any, o: any) {
    const { ctx, chartArea } = chart;
    const { left, right, top, bottom } = chartArea;
    const x = chart.scales.x, y = chart.scales.y;
    ctx.save();
    ctx.lineCap = "butt";
    ctx.strokeStyle = o.color;
    ctx.lineWidth = 1.5;
    ctx.beginPath();
    y.ticks.forEach((t: any) => {
      const py = y.getPixelForValue(t.value);
      ctx.moveTo(left, py);
      ctx.lineTo(left + o.tickLen, py);
    });
    if (o.xTicks) {
      x.ticks.forEach((t: any) => {
        const px = x.getPixelForValue(t.value);
        ctx.moveTo(px, bottom);
        ctx.lineTo(px, bottom - o.tickLen);
      });
    }
    ctx.stroke();
    ctx.lineWidth = o.yLineWidth;
    ctx.beginPath();
    ctx.moveTo(left, top);
    ctx.lineTo(left, bottom);
    ctx.stroke();
    ctx.strokeStyle = o.xColor;
    ctx.lineWidth = o.xLineWidth;
    ctx.beginPath();
    ctx.moveTo(left - 1, bottom);
    ctx.lineTo(right, bottom);
    ctx.stroke();
    ctx.restore();
  },
};

// ======================= SCALES =======================
function yScale(min: number, max: number, step: number, label: (v: number) => string, width: number) {
  return {
    type: "linear", min, max,
    afterFit: (s: any) => { s.width = width; },
    grid: { display: false }, border: { display: false },
    ticks: { stepSize: step, autoSkip: false, padding: 14, color: TICK_COLOR, font: { family: FONT_TICK, size: 28 }, callback: (v: any) => label(Number(v)) },
  };
}

function xCatScale(min: number, max: number, pos: number[], height: number) {
  return {
    type: "linear", min, max,
    afterFit: (s: any) => { s.height = height; },
    afterBuildTicks: (s: any) => { s.ticks = pos.map((v) => ({ value: v })); },
    grid: { display: false }, border: { display: false },
    ticks: { autoSkip: false, maxRotation: 0, minRotation: 0, padding: 4, color: TICK_COLOR, font: { family: FONT_TICK, size: 29 }, callback: (_v: any, i: number) => CATEGORIES[i] },
  };
}

function baseOptions(pad: { top: number; right: number }) {
  return {
    responsive: false, animation: false, events: [],
    layout: { padding: { left: 0, top: pad.top, right: pad.right, bottom: 0 } },
  };
}

// ======================= CONFIGS =======================
function configA() {
  const LOW_BAND = "rgba(72,62,172,0.30)";
  const LOW_EDGE = "rgba(112,104,205,0.6)";
  const HIGH_BAND = "rgba(255,55,55,0.30)";
  const HIGH_EDGE = "rgba(255,110,110,0.65)";
  return {
    type: "scatter",
    data: {
      datasets: [
        { type: "line", data: toXY(A_LOW_UPPER), borderColor: LOW_EDGE, borderWidth: 1.5, backgroundColor: LOW_BAND, fill: "+1", pointRadius: 0, order: 6 },
        { type: "line", data: toXY(A_LOW_LOWER), borderColor: LOW_EDGE, borderWidth: 1.5, fill: false, pointRadius: 0, order: 6 },
        { type: "line", data: toXY(A_HIGH_UPPER), borderColor: HIGH_EDGE, borderWidth: 1.5, backgroundColor: HIGH_BAND, fill: "+1", pointRadius: 0, order: 5 },
        { type: "line", data: toXY(A_HIGH_LOWER), borderColor: HIGH_EDGE, borderWidth: 1.5, fill: false, pointRadius: 0, order: 5 },
        { type: "line", data: toXY(A_LOW_MEAN), borderColor: NAVY, borderWidth: 3.5, fill: false, pointRadius: 0, order: 2, borderJoinStyle: "round" },
        { type: "line", data: toXY(A_HIGH_MEAN), borderColor: RED, borderWidth: 3.5, fill: false, pointRadius: 0, order: 1, borderJoinStyle: "round" },
      ],
    },
    options: {
      ...baseOptions({ top: 24, right: 33 }),
      plugins: {
        legend: { display: false }, tooltip: { enabled: false },
        shade: { intervals: A_POWER_DECREASE_INTERVALS, color: "#d3d3d3" },
        matlabAxes: { color: "#333", xColor: "#444", tickLen: 9, xTicks: true, yLineWidth: 1.5, xLineWidth: 2 },
      },
      scales: {
        x: {
          type: "linear", min: 0, max: 30,
          afterFit: (s: any) => { s.height = 75; },
          afterBuildTicks: (s: any) => { s.ticks = A_X_TICKS.map((v) => ({ value: v })); },
          grid: { display: false }, border: { display: false },
          ticks: { autoSkip: false, maxRotation: 0, padding: 3, color: TICK_COLOR, font: { family: FONT_TICK, size: 28 }, callback: (v: any) => (Number(v) % 10 === 0 ? String(v) : "") },
        },
        y: yScale(-5, -4, 0.2, (v) => (Math.round((v + 5) * 10) % 4 === 0 ? v.toFixed(1) : ""), 95),
      },
    },
    plugins: [shadePlugin, axesPlugin],
  };
}

function configB() {
  const HALF = 0.168;
  const [l1, c1] = groupValues(B_ACUTE_CP1);
  const [l2, c2] = groupValues(B_ACUTE_CP2);
  return {
    type: "scatter",
    data: {
      datasets: [
        pointsDs(jitter(CHRONIC_POS[0], expandCounts(B_CHRONIC_CP1, 1), HALF, 1), GRAY_PT, 3.4),
        pointsDs(jitter(CHRONIC_POS[1], expandCounts(B_CHRONIC_CP2, 1), HALF, 2), GRAY_PT, 3.4),
        pointsDs(jitter(CHRONIC_POS[2], expandCounts(B_CHRONIC_CP3, 1), HALF, 3), GRAY_PT, 3.4),
        pointsDs(jitter(CHRONIC_POS[3], expandCounts(B_CHRONIC_CP4, 1), HALF, 4), GRAY_PT, 3.4),
        pointsDs(swarm(ACUTE_POS[0], l1, c1, 0.03, 0.1), RED_PT, 3.5),
        pointsDs(swarm(ACUTE_POS[1], l2, c2, 0.03, 0.14), RED_PT, 3.5),
        ...boxDatasets(B_BOXES, 0.036, 15),
      ],
    },
    options: {
      ...baseOptions({ top: 33, right: 10 }),
      plugins: {
        legend: { display: false }, tooltip: { enabled: false },
        matlabAxes: { color: "#333", xColor: "#555", tickLen: 9, xTicks: false, yLineWidth: 1.5, xLineWidth: 3 },
      },
      scales: {
        x: xCatScale(0.714, 4.28, B_LABEL_POS, 58),
        y: yScale(0, 100, 10, (v) => (Math.round(v) % 20 === 0 ? String(Math.round(v)) : ""), 81),
      },
    },
    plugins: [axesPlugin],
  };
}

function configC() {
  const HALF = 0.176;
  return {
    type: "scatter",
    data: {
      datasets: [
        pointsDs(jitter(CHRONIC_POS[0], expandCounts(C_CHRONIC_CP1, 10), HALF, 5), GRAY_PT, 3.8),
        pointsDs(jitter(CHRONIC_POS[1], expandCounts(C_CHRONIC_CP2, 10), HALF, 6), GRAY_PT, 3.8),
        pointsDs(jitter(CHRONIC_POS[2], expandCounts(C_CHRONIC_CP3, 10), HALF, 7), GRAY_PT, 3.8),
        pointsDs(jitter(CHRONIC_POS[3], expandCounts(C_CHRONIC_CP4, 10), HALF, 8), GRAY_PT, 3.8),
        pointsDs(swarm(ACUTE_POS[0], C_ACUTE_LEVELS, C_ACUTE_CP1, 0.045, 0.1), RED_PT, 3.8),
        pointsDs(swarm(ACUTE_POS[1], C_ACUTE_LEVELS, C_ACUTE_CP2, 0.032, 0.155), RED_PT, 3.8),
        ...boxDatasets(C_BOXES, 0.034, 14),
        sigDataset(C_SIGNIFICANCE),
      ],
    },
    options: {
      ...baseOptions({ top: 39, right: 15 }),
      plugins: {
        legend: { display: false }, tooltip: { enabled: false },
        matlabAxes: { color: "#333", xColor: "#555", tickLen: 9, xTicks: false, yLineWidth: 1.5, xLineWidth: 3 },
      },
      scales: {
        x: xCatScale(0.732, 4.343, C_LABEL_POS, 44),
        y: yScale(0, 10, 1, (v) => (Math.round(v) % 2 === 0 ? String(Math.round(v)) : ""), 82),
      },
    },
    plugins: [axesPlugin],
  };
}

function configD() {
  const SP = 0.03;
  const HALF = 0.172;
  return {
    type: "scatter",
    data: {
      datasets: [
        pointsDs(swarm(CHRONIC_POS[0], D_LEVELS, D_CHRONIC_CP1, SP, HALF), GRAY_PT, 3.1),
        pointsDs(swarm(CHRONIC_POS[1], D_LEVELS, D_CHRONIC_CP2, SP, HALF), GRAY_PT, 3.1),
        pointsDs(swarm(CHRONIC_POS[2], D_LEVELS, D_CHRONIC_CP3, SP, HALF), GRAY_PT, 3.1),
        pointsDs(swarm(CHRONIC_POS[3], D_LEVELS, D_CHRONIC_CP4, SP, HALF), GRAY_PT, 3.1),
        pointsDs(swarm(ACUTE_POS[0], D_ACUTE_LEVELS, D_ACUTE_CP1, 0.025, 0.12), RED_PT, 3.6),
        pointsDs(swarm(ACUTE_POS[1], D_ACUTE_LEVELS, D_ACUTE_CP2, 0.025, 0.145), RED_PT, 3.6),
        ...boxDatasets(D_BOXES, 0.036, 15),
        sigDataset(D_SIGNIFICANCE),
      ],
    },
    options: {
      ...baseOptions({ top: 51, right: 6 }),
      plugins: {
        legend: { display: false }, tooltip: { enabled: false },
        matlabAxes: { color: "#333", xColor: "#555", tickLen: 9, xTicks: false, yLineWidth: 1.5, xLineWidth: 3 },
      },
      scales: {
        x: xCatScale(0.69, 4.262, D_LABEL_POS, 44),
        y: yScale(0, 2.5, 0.5, (v) => (Math.abs(v - Math.round(v)) < 1e-6 ? String(Math.round(v)) : ""), 82),
      },
    },
    plugins: [axesPlugin],
  };
}

// ======================= COMPONENTS =======================
function ChartCanvas({ left, top, width, height, build }: any) {
  const ref = useRef<HTMLCanvasElement | null>(null);
  useEffect(() => {
    if (!ref.current) return;
    const chart = new Chart(ref.current, build());
    return () => chart.destroy();
  }, [build]);
  return <canvas ref={ref} width={width} height={height} style={{ position: "absolute", left, top, width, height }} />;
}

function Txt({ x, y, size = 31, anchor = "center", rotate = false, bold = false, ls = 0, children }: any) {
  const tx = anchor === "left" ? "0" : "-50%";
  return (
    <div
      style={{
        position: "absolute", left: x, top: y,
        transform: `translate(${tx},-50%)${rotate ? " rotate(-90deg)" : ""}`,
        fontSize: size, lineHeight: 1, whiteSpace: "nowrap", fontFamily: FONT_TEXT,
        fontWeight: bold ? 700 : 400, letterSpacing: ls, color: "#111",
      }}
    >
      {children}
    </div>
  );
}

function Box({ l, t, w, h, style }: any) {
  return <div style={{ position: "absolute", left: l, top: t, width: w, height: h, boxSizing: "border-box", ...style }} />;
}

export default function App() {
  return (
    <div style={{ position: "absolute", left: 0, top: 0, width: 2040, height: 1448, background: "#fff", overflow: "hidden" }}>
      <ChartCanvas left={60} top={70} width={875} height={620} build={configA} />
      <ChartCanvas left={1100} top={20} width={940} height={700} build={configB} />
      <ChartCanvas left={50} top={740} width={960} height={708} build={configC} />
      <ChartCanvas left={1100} top={740} width={940} height={708} build={configD} />

      {/* Panel a */}
      <Txt x={17} y={26} size={42} bold>a</Txt>
      <Box l={195} t={24} w={79} h={13} style={{ background: "#1e1280", border: "1.5px solid #9a94d6" }} />
      <Box l={195} t={65} w={79} h={13} style={{ background: "#ff1414", border: "1.5px solid #ff9a9a" }} />
      <Txt x={287} y={30} anchor="left">Low pain</Txt>
      <Txt x={287} y={72} anchor="left">High pain</Txt>
      <Box l={498} t={45} w={75} h={29} style={{ background: "#d3d3d3" }} />
      <Txt x={585} y={61} anchor="left">Power decreases</Txt>
      <Box l={169} t={98} w={87} h={88} style={{ background: "#1f1280", border: "9px solid #000" }} />
      <Txt x={20} y={354} rotate ls={0.5}>Power</Txt>
      <Txt x={58} y={354} rotate ls={0.5}>
        (log<span style={{ fontSize: "68%", verticalAlign: "-0.3em", lineHeight: 0 }}>10</span> µV<span style={{ fontSize: "68%", verticalAlign: "0.6em", lineHeight: 0 }}>2</span>)
      </Txt>
      <Txt x={528} y={682}>Time (s)</Txt>

      {/* Panel b */}
      <Txt x={1057} y={25} size={42} bold>b</Txt>
      <Txt x={1061} y={358} rotate ls={0.5}>Recording clip time with</Txt>
      <Txt x={1098} y={358} rotate ls={0.5}>increases or decreases (%)</Txt>

      {/* Panel c */}
      <Txt x={17} y={774} size={42} bold>c</Txt>
      <Txt x={26} y={1091} rotate ls={0.5}>Mean duration of</Txt>
      <Txt x={64} y={1091} rotate ls={0.5}>increases and decreases (s)</Txt>
      <Txt x={282} y={885} size={36}>*</Txt>
      <Txt x={490} y={885} size={36}>*</Txt>

      {/* Panel d */}
      <Txt x={1056} y={774} size={42} bold>d</Txt>
      <Txt x={1061} y={1097} rotate ls={0.5}>Increases or decreases</Txt>
      <Txt x={1098} y={1097} rotate ls={0.5}>per second</Txt>
      <Txt x={1318} y={859} size={36}>*</Txt>
      <Txt x={1526} y={859} size={36}>*</Txt>
      <Box l={1706} t={893} w={20} h={20} style={{ background: GRAY_PT, borderRadius: "50%" }} />
      <Txt x={1738} y={903} anchor="left">Chronic</Txt>
      <Box l={1706} t={945} w={20} h={20} style={{ background: RED_PT, borderRadius: "50%" }} />
      <Txt x={1738} y={955} anchor="left">Acute affected</Txt>
    </div>
  );
}
